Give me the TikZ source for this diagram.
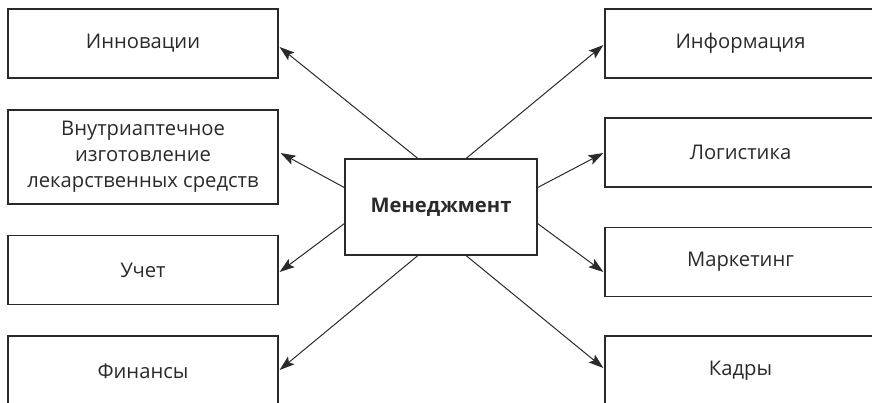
\documentclass[tikz,border=0pt]{standalone}
\usepackage{fontspec}
\setmainfont{Open Sans}
\usetikzlibrary{arrows.meta,calc}
\definecolor{ink}{HTML}{2A2A2A}
\tikzset{
  box/.style={draw=ink, line width=1.2pt, rectangle, minimum width=270pt, minimum height=69pt,
    inner sep=0pt, text=ink, align=center, font=\fontsize{20.2}{26}\selectfont},
  conn/.style={draw=ink, line width=1pt, -{Stealth[length=15pt,width=10pt,inset=3pt]}}
}
\begin{document}
\begin{tikzpicture}[x=1pt,y=-1pt]
\useasboundingbox (0,0) rectangle (872,402);
\clip (0,0) rectangle (872,402);
% left column
\node[box] (inn) at (143,43.5) {Инновации};
\node[box, minimum height=94pt] (vnu) at (143,157) {Внутриаптечное\\изготовление\\лекарственных средств};
\node[box] (uch) at (143,270) {Учет};
\node[box, minimum height=70pt] (fin) at (143,371) {Финансы};
% right column
\node[box, minimum width=271pt] (inf) at (740.5,43.5) {Информация};
\node[box, minimum width=271pt] (log) at (740.5,152.5) {Логистика};
\node[box, minimum width=271pt] (mar) at (740.5,262) {Маркетинг};
\node[box, minimum width=271pt, minimum height=70pt] (kad) at (740.5,371) {Кадры};
% center
\node[box, minimum width=192pt, minimum height=96pt, font=\fontsize{20.2}{26}\selectfont\bfseries] (m) at (441,207) {Менеджмент};
% connectors
\draw[conn] ($(m.north west)!0.38!(m.north east)$) -- ($(inn.east)+(1,3.5)$);
\draw[conn] ($(m.north west)!0.30!(m.south west)$) -- ($(vnu.east)+(2,-4)$);
\draw[conn] ($(m.north west)!0.67!(m.south west)$) -- ($(uch.east)+(1,2)$);
\draw[conn] ($(m.south west)!0.38!(m.south east)$) -- ($(fin.east)+(1,-1)$);
\draw[conn] ($(m.north west)!0.63!(m.north east)$) -- ($(inf.west)+(-1,1.5)$);
\draw[conn] ($(m.north east)!0.30!(m.south east)$) -- ($(log.west)+(-1,0.5)$);
\draw[conn] ($(m.north east)!0.67!(m.south east)$) -- ($(mar.west)+(-1,10)$);
\draw[conn] ($(m.south west)!0.63!(m.south east)$) -- ($(kad.west)+(-1,-3)$);
\end{tikzpicture}
\end{document}
